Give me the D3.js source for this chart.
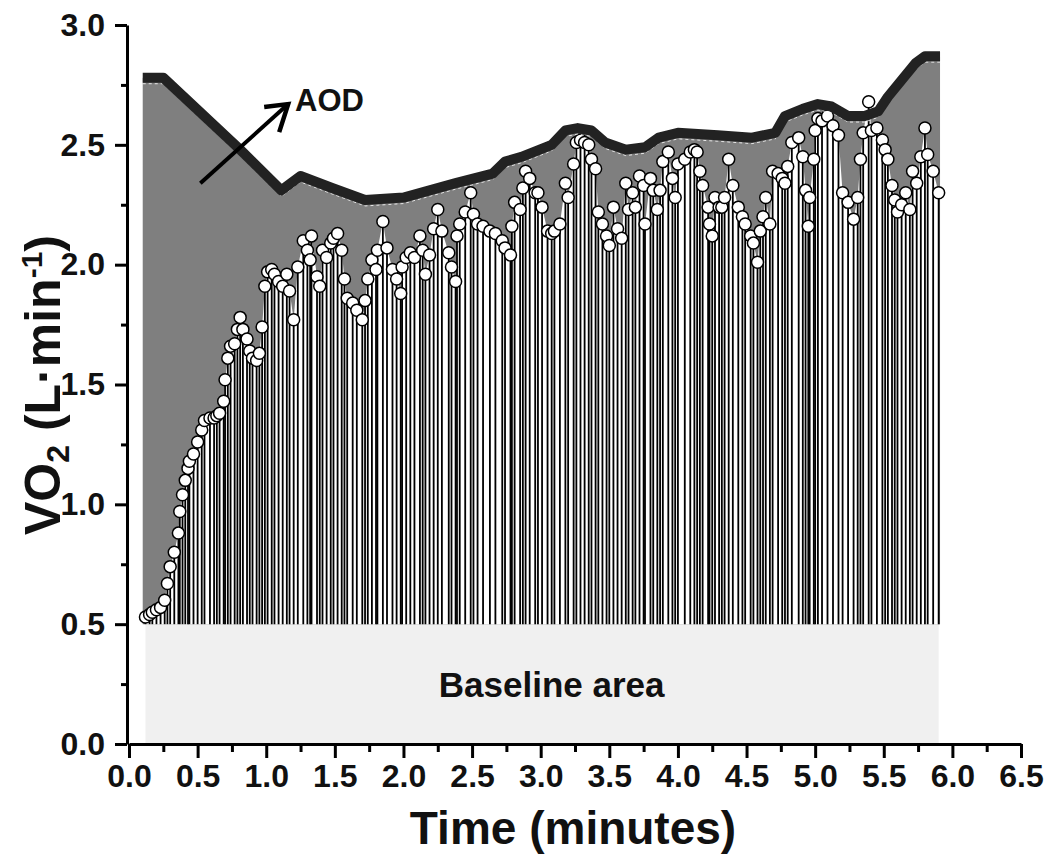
<!DOCTYPE html>
<html>
<head>
<meta charset="utf-8">
<script src="https://cdn.jsdelivr.net/npm/d3@7"></script>
<style>
body { margin: 0; background: #fff; }
text { font-family: "Liberation Sans", Arial, sans-serif; font-weight: bold; fill: #111; }
</style>
</head>
<body>
<div id="chart"></div>
<script>
// breath-by-breath VO2 (time in minutes, VO2 in L/min)
const time = [0.12,0.15,0.17,0.20,0.23,0.26,0.28,0.30,0.33,0.36,0.37,0.39,0.41,0.43,0.44,0.47,0.50,0.53,0.55,0.59,
  0.62,0.64,0.66,0.69,0.70,0.72,0.74,0.77,0.79,0.81,0.83,0.86,0.88,0.90,0.93,0.95,0.97,0.99,1.01,1.04,
  1.06,1.09,1.12,1.15,1.17,1.20,1.23,1.27,1.30,1.32,1.33,1.37,1.39,1.41,1.44,1.47,1.49,1.52,1.55,1.57,
  1.59,1.63,1.66,1.70,1.72,1.74,1.77,1.80,1.81,1.85,1.88,1.92,1.95,1.98,1.99,2.02,2.05,2.08,2.12,2.14,
  2.16,2.19,2.22,2.25,2.28,2.33,2.35,2.38,2.39,2.41,2.45,2.49,2.51,2.54,2.58,2.63,2.67,2.72,2.74,2.78,
  2.79,2.81,2.85,2.87,2.89,2.92,2.96,2.98,3.01,3.05,3.08,3.10,3.14,3.18,3.20,3.24,3.26,3.29,3.32,3.35,
  3.37,3.40,3.42,3.45,3.48,3.50,3.53,3.56,3.59,3.62,3.64,3.67,3.69,3.72,3.75,3.76,3.80,3.82,3.85,3.87,
  3.89,3.93,3.96,3.98,4.00,4.05,4.09,4.12,4.14,4.16,4.18,4.22,4.23,4.25,4.27,4.30,4.32,4.34,4.37,4.40,
  4.44,4.47,4.49,4.53,4.55,4.58,4.60,4.62,4.64,4.67,4.69,4.73,4.76,4.78,4.80,4.83,4.88,4.91,4.93,4.95,
  4.96,4.99,5.00,5.02,5.05,5.09,5.13,5.17,5.20,5.24,5.28,5.31,5.33,5.35,5.39,5.41,5.45,5.49,5.51,5.53,
  5.56,5.58,5.60,5.63,5.66,5.69,5.71,5.74,5.77,5.80,5.82,5.86,5.90];
const vo2 = [0.53,0.54,0.55,0.56,0.57,0.60,0.67,0.74,0.80,0.88,0.97,1.04,1.10,1.15,1.18,1.21,1.26,1.31,1.35,1.36,
  1.36,1.37,1.38,1.43,1.52,1.61,1.66,1.67,1.73,1.78,1.73,1.69,1.64,1.61,1.60,1.63,1.74,1.91,1.97,1.98,
  1.96,1.93,1.91,1.96,1.89,1.77,1.99,2.10,2.06,2.02,2.12,1.95,1.91,2.06,2.03,2.09,2.11,2.13,2.06,1.94,
  1.86,1.84,1.81,1.77,1.85,1.94,2.02,1.98,2.06,2.18,2.07,1.98,1.94,1.88,1.99,2.03,2.05,2.03,2.12,2.06,
  1.96,2.04,2.15,2.23,2.14,2.05,1.99,1.93,2.12,2.17,2.22,2.30,2.21,2.17,2.16,2.14,2.13,2.10,2.07,2.04,
  2.16,2.26,2.23,2.32,2.39,2.36,2.30,2.30,2.24,2.14,2.13,2.14,2.17,2.34,2.28,2.42,2.51,2.52,2.51,2.50,
  2.44,2.40,2.22,2.17,2.12,2.08,2.24,2.15,2.11,2.34,2.23,2.30,2.24,2.37,2.33,2.17,2.36,2.31,2.23,2.31,
  2.43,2.47,2.36,2.28,2.42,2.44,2.47,2.48,2.47,2.39,2.33,2.24,2.17,2.12,2.28,2.24,2.24,2.28,2.44,2.33,
  2.24,2.20,2.17,2.12,2.09,2.01,2.14,2.20,2.28,2.17,2.39,2.38,2.36,2.34,2.41,2.51,2.53,2.45,2.31,2.16,
  2.28,2.44,2.56,2.61,2.60,2.62,2.58,2.54,2.30,2.26,2.19,2.28,2.44,2.55,2.68,2.56,2.57,2.52,2.48,2.44,
  2.33,2.27,2.22,2.25,2.30,2.23,2.39,2.34,2.45,2.57,2.46,2.39,2.30];

// AOD envelope (thick black line)
const aodTime = [0.10,0.25,0.81,1.11,1.25,1.48,1.72,2.00,2.38,2.65,2.74,2.86,3.08,3.18,3.27,3.37,3.47,3.62,3.76,3.86,
  4.00,4.29,4.54,4.71,4.78,4.91,5.02,5.12,5.24,5.36,5.46,5.53,5.63,5.73,5.80,5.91];
const aodVo2 = [2.78,2.78,2.48,2.31,2.37,2.32,2.27,2.28,2.34,2.38,2.43,2.45,2.50,2.56,2.57,2.56,2.51,2.48,2.49,2.53,
  2.55,2.54,2.53,2.55,2.62,2.65,2.67,2.66,2.62,2.62,2.64,2.70,2.77,2.84,2.87,2.87];

const baseline = 0.5;
const xTicks = [0,0.5,1,1.5,2,2.5,3,3.5,4,4.5,5,5.5,6,6.5];
const xMinor = [0.25,0.75,1.25,1.75,2.25,2.75,3.25,3.75,4.25,4.75,5.25,5.75,6.25];
const yTicks = [0,0.5,1,1.5,2,2.5,3];
const yMinor = [0.25,0.75,1.25,1.75,2.25,2.75];

const width = 1049, height = 854;
const margin = {top: 25, right: 28, bottom: 110, left: 129};

const svg = d3.select("#chart").append("svg")
    .attr("width", width)
    .attr("height", height);

const x = d3.scaleLinear().domain([0, 6.5]).range([margin.left, width - margin.right]);
const y = d3.scaleLinear().domain([0, 3]).range([height - margin.bottom, margin.top]);

const pts = time.map((t, i) => ({t: t, v: vo2[i]}));
const aod = aodTime.map((t, i) => ({t: t, v: aodVo2[i]}));

// baseline area
svg.append("rect")
    .attr("x", x(time[0]))
    .attr("y", y(baseline))
    .attr("width", x(time[time.length - 1]) - x(time[0]))
    .attr("height", y(0) - y(baseline))
    .attr("fill", "#f0f0f0");

// grey area under the AOD envelope
svg.append("path")
    .datum(aod)
    .attr("fill", "#7f7f7f")
    .attr("d", d3.area().x(d => x(d.t)).y0(y(baseline)).y1(d => y(d.v)));

// white area under the measured VO2
svg.append("path")
    .datum(pts)
    .attr("fill", "#fff")
    .attr("d", d3.area().x(d => x(d.t)).y0(y(baseline)).y1(d => y(d.v)));

// stems
svg.append("g").selectAll("line")
    .data(pts)
    .enter().append("line")
    .attr("x1", d => x(d.t)).attr("x2", d => x(d.t))
    .attr("y1", y(baseline)).attr("y2", d => y(d.v))
    .attr("stroke", "#000")
    .attr("stroke-width", 1.8);

// markers
svg.append("g").selectAll("circle")
    .data(pts)
    .enter().append("circle")
    .attr("cx", d => x(d.t))
    .attr("cy", d => y(d.v))
    .attr("r", 6)
    .attr("fill", "#fff")
    .attr("stroke", "#000")
    .attr("stroke-width", 1.5);

// AOD line
const aodLine = d3.line().x(d => x(d.t)).y(d => y(d.v));
svg.append("path")
    .datum(aod)
    .attr("fill", "none")
    .attr("stroke", "#fff")
    .attr("stroke-width", 1)
    .attr("stroke-dasharray", "3,3")
    .attr("opacity", 0.8)
    .attr("transform", "translate(0,6)")
    .attr("d", aodLine);
svg.append("path")
    .datum(aod)
    .attr("fill", "none")
    .attr("stroke", "#222")
    .attr("stroke-width", 10)
    .attr("stroke-linejoin", "round")
    .attr("d", aodLine);

// arrow + label
const ax0 = x(0.52), ay0 = y(2.34), ax1 = x(1.16), ay1 = y(2.67);
svg.append("line")
    .attr("x1", ax0).attr("y1", ay0).attr("x2", ax1).attr("y2", ay1)
    .attr("stroke", "#000").attr("stroke-width", 4);
svg.append("path")
    .attr("d", `M${ax1 - 24},${ay1 + 3} L${ax1},${ay1} L${ax1 - 9},${ay1 + 28}`)
    .attr("fill", "none").attr("stroke", "#000").attr("stroke-width", 4.5)
    .attr("stroke-linejoin", "miter");
svg.append("text")
    .attr("x", x(1.21)).attr("y", y(2.64))
    .attr("font-size", 31)
    .text("AOD");

svg.append("text")
    .attr("x", x(3.08)).attr("y", y(0.25))
    .attr("dy", "0.36em")
    .attr("text-anchor", "middle")
    .attr("font-size", 35)
    .text("Baseline area");

// axes
const xAxis = svg.append("g")
    .attr("transform", `translate(0,${y(0)})`)
    .call(d3.axisBottom(x).tickValues(xTicks).tickSize(14).tickSizeOuter(0).tickPadding(6)
        .tickFormat(d3.format(".1f")));
svg.append("g")
    .attr("transform", `translate(0,${y(0)})`)
    .call(d3.axisBottom(x).tickValues(xMinor).tickSize(8).tickFormat(""))
    .select(".domain").remove();

const yAxis = svg.append("g")
    .attr("transform", `translate(${x(0) - 2},0)`)
    .call(d3.axisLeft(y).tickValues(yTicks).tickSize(12).tickSizeOuter(0).tickPadding(10)
        .tickFormat(d3.format(".1f")));
svg.append("g")
    .attr("transform", `translate(${x(0) - 2},0)`)
    .call(d3.axisLeft(y).tickValues(yMinor).tickSize(6).tickFormat(""))
    .select(".domain").remove();

svg.selectAll(".domain").attr("stroke", "#000").attr("stroke-width", 3);
svg.selectAll(".tick line").attr("stroke", "#000").attr("stroke-width", 3);
svg.selectAll(".tick text").attr("font-size", 32).attr("font-family", "Liberation Sans, Arial")
    .attr("font-weight", "bold").attr("fill", "#111");

// axis titles
svg.append("text")
    .attr("x", 573).attr("y", 844)
    .attr("text-anchor", "middle")
    .attr("font-size", 46)
    .text("Time (minutes)");

const yt = svg.append("text")
    .attr("transform", `translate(60,385) rotate(-90)`)
    .attr("text-anchor", "middle")
    .attr("font-size", 50);
yt.append("tspan").text("VO");
yt.append("tspan").attr("font-size", 32).attr("dy", 9).text("2");
yt.append("tspan").attr("dy", -9).text(" (L\u00b7min");
yt.append("tspan").attr("font-size", 30).attr("dy", -18).text("-1");
yt.append("tspan").attr("dy", 18).text(")");
</script>
</body>
</html>
